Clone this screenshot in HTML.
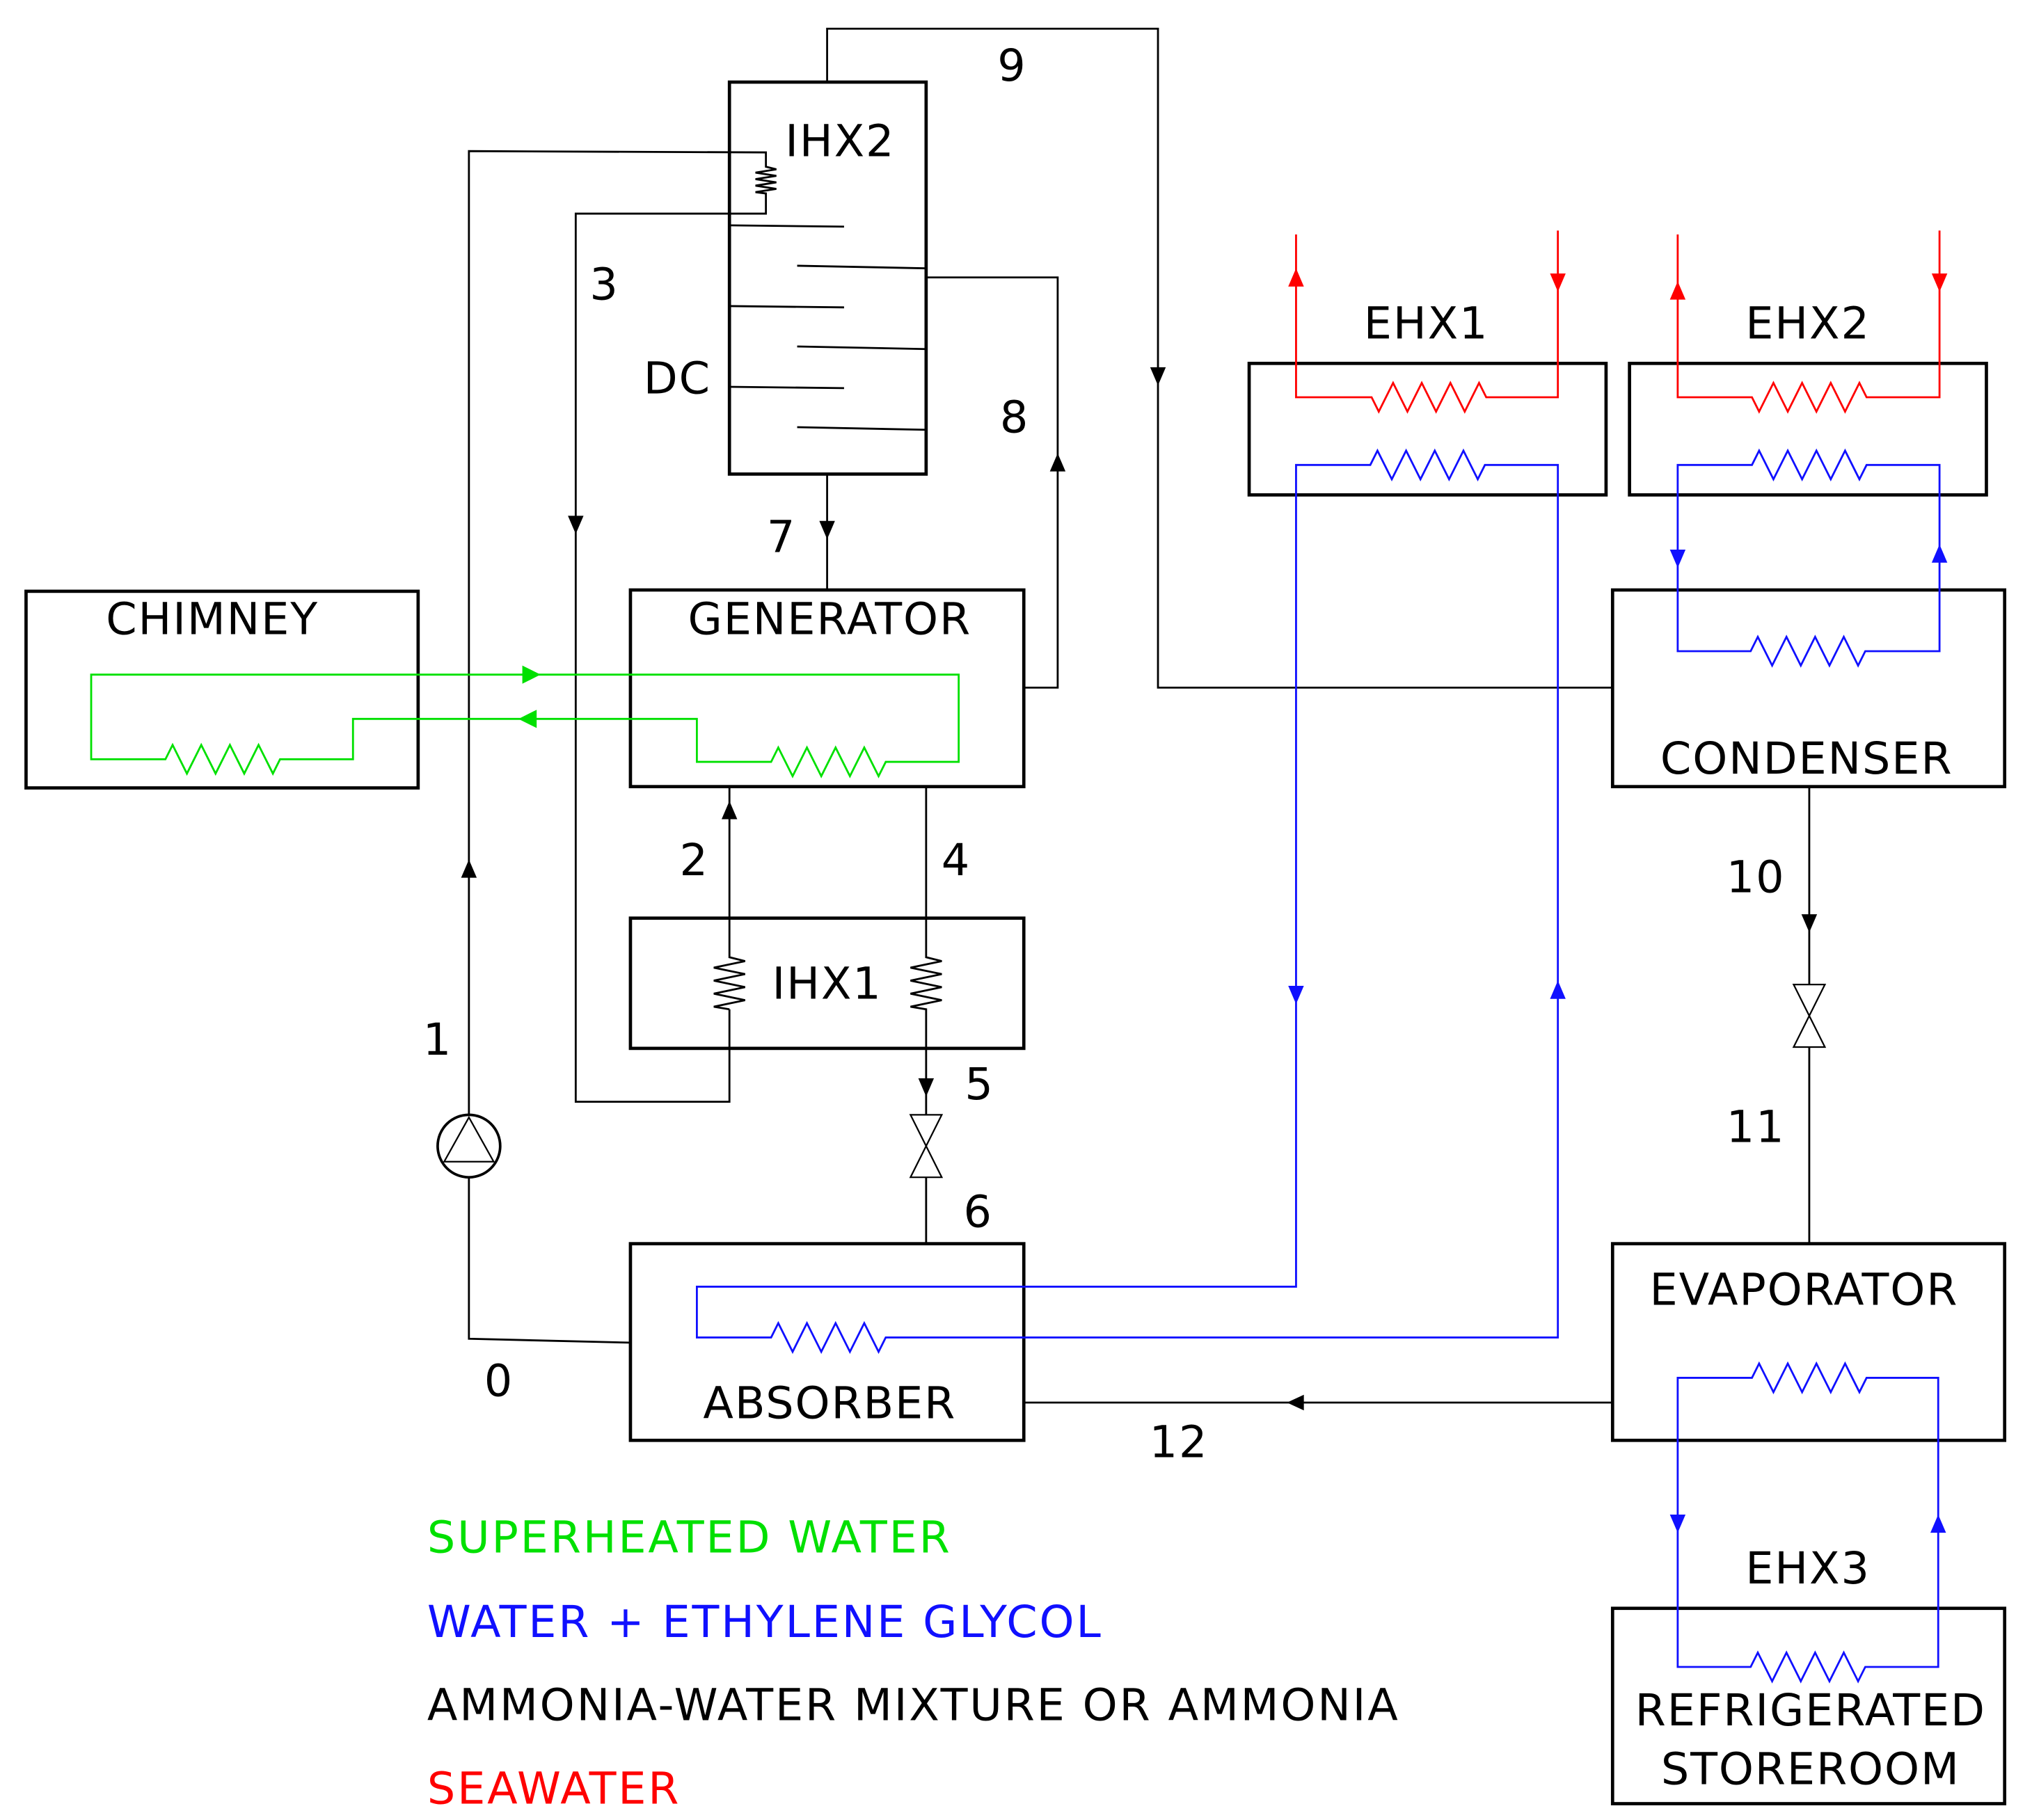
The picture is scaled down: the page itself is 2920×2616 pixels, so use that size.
<!DOCTYPE html>
<html><head><meta charset="utf-8"><style>
html,body{margin:0;padding:0;background:#fff;}
svg{display:block;}
text{font-family:"DejaVu Sans","Liberation Sans",sans-serif;}
</style></head><body>
<svg width="2920" height="2616" viewBox="0 0 1560 1397.5" xmlns="http://www.w3.org/2000/svg">
<rect width="1560" height="1398" fill="#fff"/>
<g fill="none" stroke="#000" stroke-width="1.5">
<path d="M635,63 V22 H889 V528 H1238"/>
<path d="M711,213 H812 V528 H786"/>
<path d="M635,364 V453"/>
<path d="M360,856 V116 L588,117 V128 l8,2 l-16,2.5 l16,2.5 l-16,2.5 l16,2.5 l-16,2.5 l16,2.5 l-16,2.5 l8,1 V164 H442 V846 H560 V775"/>
<path d="M560,604 V735 l12,3 l-24,5 l24,5 l-24,5 l24,5 l-24,5 l24,5 l-24,5 l12,2"/>
<path d="M711,604 V735 l12,3 l-24,5 l24,5 l-24,5 l24,5 l-24,5 l24,5 l-24,5 l12,2 V856"/>
<path d="M711,904 V955"/>
<path d="M360,904 V1028 L484,1031"/>
<path d="M1389,604 V756 M1389,804 V955"/>
<path d="M1238,1077 H786"/>
<path d="M560,173 L648,174 M612,204 L711,206 M560,235 L648,236 M612,266 L711,268 M560,297 L648,298 M612,328 L711,330"/>
</g>
<g fill="none" stroke="#000" stroke-width="2.5">
<rect x="560" y="63" width="151" height="301"/>
<rect x="484" y="453" width="302" height="151"/>
<rect x="20" y="454" width="301" height="151"/>
<rect x="484" y="705" width="302" height="100"/>
<rect x="484" y="955" width="302" height="151"/>
<rect x="959" y="279" width="274" height="101"/>
<rect x="1251" y="279" width="274" height="101"/>
<rect x="1238" y="453" width="301" height="151"/>
<rect x="1238" y="955" width="301" height="151"/>
<rect x="1238" y="1235" width="301" height="150"/>
</g>
<g fill="#fff" stroke="#000" stroke-width="1.2">
<path d="M699,856 L723,856 L699,904 L723,904 Z"/>
<path d="M1377,756 L1401,756 L1377,804 L1401,804 Z"/>
<circle cx="360" cy="880" r="24" stroke-width="2"/>
<path d="M360,858 L341,892 L379,892 Z" fill="none"/>
</g>
<g fill="#000">
<path d="M883,282 L895,282 L889,296 Z"/>
<path d="M806,362 L818,362 L812,348 Z"/>
<path d="M629,400 L641,400 L635,414 Z"/>
<path d="M436,396 L448,396 L442,410 Z"/>
<path d="M354,674 L366,674 L360,660 Z"/>
<path d="M554,629 L566,629 L560,615 Z"/>
<path d="M705,828 L717,828 L711,842 Z"/>
<path d="M1383,702 L1395,702 L1389,716 Z"/>
<path d="M1001,1071 L1001,1083 L988,1077 Z"/>
</g>
<g fill="none" stroke="#00e000" stroke-width="1.5">
<path d="M70,518 H736 V585 H680 l-5.5,11 l-11,-22 l-11,22 l-11,-22 l-11,22 l-11,-22 l-11,22 l-11,-22 l-5.5,11 H535 V552 H271 V583 H215 l-5.5,11 l-11,-22 l-11,22 l-11,-22 l-11,22 l-11,-22 l-11,22 l-11,-22 l-5.5,11 H70 Z"/>
</g>
<g fill="#00e000">
<path d="M401,511 L401,525 L415,518 Z"/>
<path d="M412,545 L412,559 L398,552 Z"/>
</g>
<g fill="none" stroke="#f00" stroke-width="1.5">
<path d="M995,180 V305 H1053 l5.5,11 l11,-22 l11,22 l11,-22 l11,22 l11,-22 l11,22 l11,-22 l5.5,11 H1196 V177"/>
<path d="M1288,180 V305 H1345 l5.5,11 l11,-22 l11,22 l11,-22 l11,22 l11,-22 l11,22 l11,-22 l5.5,11 H1489 V177"/>
</g>
<g fill="#f00">
<path d="M989,220 L1001,220 L995,206 Z"/>
<path d="M1190,210 L1202,210 L1196,224 Z"/>
<path d="M1282,230 L1294,230 L1288,216 Z"/>
<path d="M1483,210 L1495,210 L1489,224 Z"/>
</g>
<g fill="none" stroke="#1010ff" stroke-width="1.5">
<path d="M1196,357 H1140 l-5.5,11 l-11,-22 l-11,22 l-11,-22 l-11,22 l-11,-22 l-11,22 l-11,-22 l-5.5,11 H995 V988 H535 V1027 H592 l5.5,-11 l11,22 l11,-22 l11,22 l11,-22 l11,22 l11,-22 l11,22 l5.5,-11 H1196 Z"/>
<path d="M1288,500 V357 H1345 l5.5,-11 l11,22 l11,-22 l11,22 l11,-22 l11,22 l11,-22 l11,22 l5.5,-11 H1489 V500 H1432 l-5.5,11 l-11,-22 l-11,22 l-11,-22 l-11,22 l-11,-22 l-11,22 l-11,-22 l-5.5,11 Z"/>
<path d="M1288,1280 V1058 H1345 l5.5,-11 l11,22 l11,-22 l11,22 l11,-22 l11,22 l11,-22 l11,22 l5.5,-11 H1488 V1280 H1432 l-5.5,11 l-11,-22 l-11,22 l-11,-22 l-11,22 l-11,-22 l-11,22 l-11,-22 l-5.5,11 Z"/>
</g>
<g fill="#1010ff">
<path d="M989,757 L1001,757 L995,771 Z"/>
<path d="M1190,767 L1202,767 L1196,753 Z"/>
<path d="M1282,422 L1294,422 L1288,436 Z"/>
<path d="M1483,432 L1495,432 L1489,418 Z"/>
<path d="M1282,1163 L1294,1163 L1288,1177 Z"/>
<path d="M1482,1177 L1494,1177 L1488,1163 Z"/>
</g>
<g font-size="34" fill="#000" text-anchor="middle" letter-spacing="1">
<text x="645" y="120">IHX2</text>
<text x="520" y="302">DC</text>
<text x="637" y="487">GENERATOR</text>
<text x="163" y="487">CHIMNEY</text>
<text x="635" y="767">IHX1</text>
<text x="637" y="1089">ABSORBER</text>
<text x="1095" y="260">EHX1</text>
<text x="1388" y="260">EHX2</text>
<text x="1387" y="594">CONDENSER</text>
<text x="1385" y="1002">EVAPORATOR</text>
<text x="1388" y="1216">EHX3</text>
<text x="1390" y="1325">REFRIGERATED</text>
<text x="1390" y="1370">STOREROOM</text>
<text x="777" y="62">9</text>
<text x="464" y="230">3</text>
<text x="779" y="332">8</text>
<text x="600" y="424">7</text>
<text x="533" y="672">2</text>
<text x="734" y="672">4</text>
<text x="336" y="810">1</text>
<text x="752" y="844">5</text>
<text x="751" y="942">6</text>
<text x="383" y="1072">0</text>
<text x="1348" y="685">10</text>
<text x="1348" y="877">11</text>
<text x="905" y="1119">12</text>
</g>
<g font-size="34" letter-spacing="1.5">
<text x="328" y="1192" fill="#00e000">SUPERHEATED WATER</text>
<text x="328" y="1257" fill="#1010ff">WATER + ETHYLENE GLYCOL</text>
<text x="328" y="1321" fill="#000">AMMONIA-WATER MIXTURE OR AMMONIA</text>
<text x="328" y="1385" fill="#f00">SEAWATER</text>
</g>
</svg>
</body></html>
